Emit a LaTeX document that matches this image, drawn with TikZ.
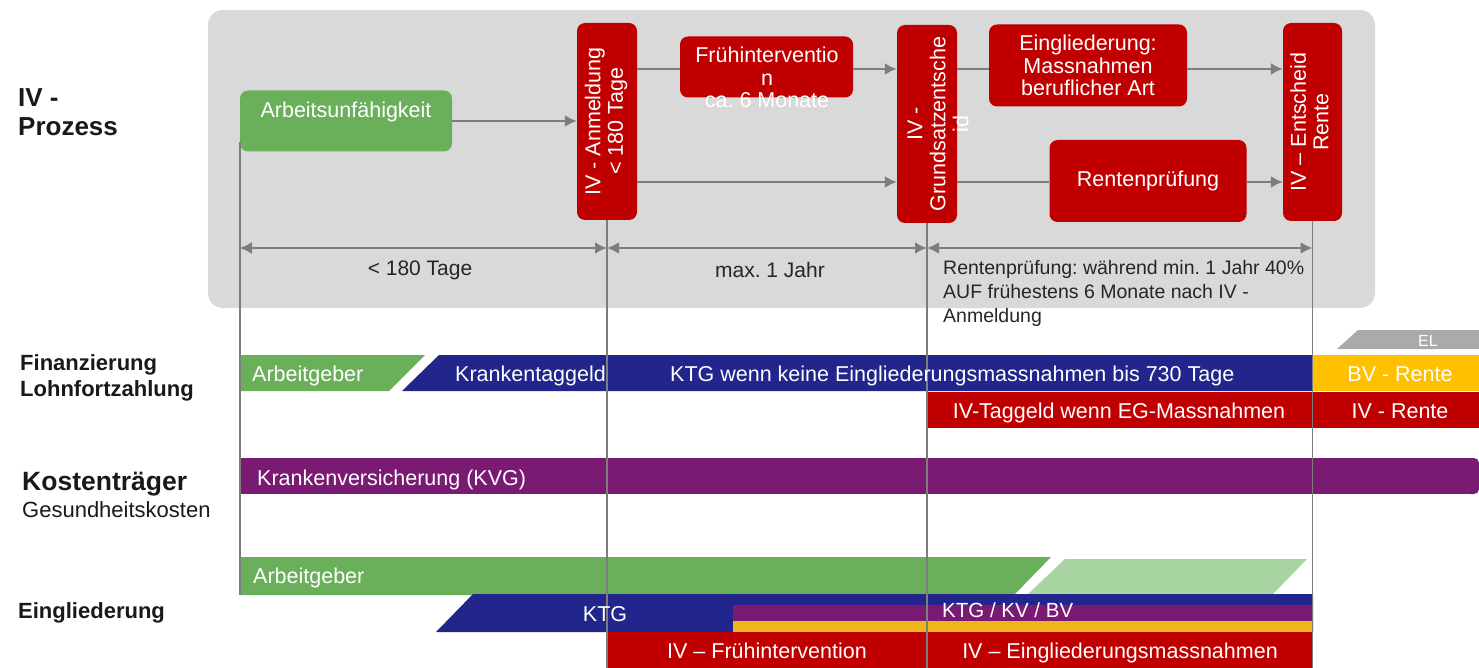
\documentclass[tikz,border=0pt]{standalone}
\usepackage{fontspec}
\setmainfont{Liberation Sans}
\usetikzlibrary{arrows.meta,calc}
\frenchspacing

\definecolor{bggray}{RGB}{217,217,217}
\definecolor{ivred}{RGB}{192,0,0}
\definecolor{agreen}{RGB}{106,176,90}
\definecolor{lgreen}{RGB}{168,212,162}
\definecolor{navy}{RGB}{33,37,140}
\definecolor{kvpurple}{RGB}{122,26,115}
\definecolor{bvyellow}{RGB}{255,192,0}
\definecolor{stripyellow}{RGB}{236,182,28}
\definecolor{linegray}{RGB}{125,125,125}
\definecolor{elgray}{RGB}{170,170,170}

\newcommand{\fs}[2]{\fontsize{#1}{#2}\selectfont}

\begin{document}
\begin{tikzpicture}[x=1pt, y=-1pt,
  procbox/.style={fill=ivred, rounded corners=8pt, text=white, font=\fs{21.5}{22.5}, align=center, inner sep=0pt},
  conn/.style={draw=linegray, line width=2.2pt},
  arr/.style={conn, -{Latex[length=12pt,width=12pt]}},
  dim/.style={conn, {Latex[length=12pt,width=12pt]}-{Latex[length=12pt,width=12pt]}},
  vline/.style={draw=linegray, line width=1.4pt},
  bartext/.style={text=white, font=\fs{21.5}{24}, inner sep=0pt, anchor=base west},
  barmid/.style={text=white, font=\fs{21.5}{24}, inner sep=0pt, anchor=base},
  dimtext/.style={text=black!85, font=\fs{21}{24}, inner sep=0pt, anchor=base},
  sidelbl/.style={text=black!90, inner sep=0pt, align=left}
]
\useasboundingbox (0,0) rectangle (1479,668);

% helper rows
\coordinate (row1) at (0,69);
\coordinate (row2) at (0,182);
\coordinate (dimrow) at (0,248);
\coordinate (egbot) at (0,595);
\coordinate (bot) at (0,668);

% ---------- process area ----------
\node[fill=bggray, rounded corners=15pt, minimum width=1167pt, minimum height=298pt, inner sep=0pt] (proc) at (791.5,159) {};

\node[procbox, fill=agreen, minimum width=212pt, minimum height=61pt, text height=16pt, text depth=22pt] (au) at (346,121) {Arbeitsunfähigkeit};

\node[procbox, minimum width=60pt, minimum height=197pt] (anm) at (607,121.5)
  {\rotatebox{90}{\begin{tabular}{@{}c@{}}IV - Anmeldung\\< 180 Tage\end{tabular}}};

\node[procbox, minimum width=173pt, minimum height=61pt] (fi) at (766.5,67) {};
\node[text=white, font=\fs{21.5}{22.5}, align=center, inner sep=0pt, anchor=north] (fi-text) at (767,47) {Frühinterventio\\n\\ca. 6 Monate};

\node[procbox, minimum width=60pt, minimum height=198pt] (gs) at (927,124) {};
\node[text=white, font=\fs{21.5}{23}, align=center, inner sep=0pt, rotate=90] (gs-text) at (938,124) {IV -\\Grundsatzentsche\\id};

\node[procbox, minimum width=198pt, minimum height=82pt] (eg) at (1088,65.5) {Eingliederung:\\Massnahmen\\beruflicher Art};

\node[procbox, minimum width=197pt, minimum height=82pt] (rp) at (1148,181) {Rentenprüfung};

\node[procbox, minimum width=59pt, minimum height=198pt] (ent) at (1312.5,122)
  {\rotatebox{90}{\begin{tabular}{@{}c@{}}IV – Entscheid\\Rente\end{tabular}}};

% connectors
\draw[arr] (au.east) -- (au.east -| anm.west);
\draw[conn] (anm.east |- row1) -- (fi.west |- row1);
\draw[arr] (fi.east |- row1) -- (gs.west |- row1);
\draw[conn] (gs.east |- row1) -- (eg.west |- row1);
\draw[arr] (eg.east |- row1) -- (ent.west |- row1);
\draw[arr] (anm.east |- row2) -- (gs.west |- row2);
\draw[conn] (gs.east |- row2) -- (rp.west |- row2);
\draw[arr] (rp.east |- row2) -- (ent.west |- row2);

% durations
\draw[dim] (au.west |- dimrow) -- (anm.south |- dimrow);
\draw[dim] (anm.south |- dimrow) -- (gs.south |- dimrow);
\draw[dim] (gs.south |- dimrow) -- (ent.south |- dimrow);
\node[dimtext] (d1) at (420,276) {< 180 Tage};
\node[dimtext] (d2) at (770,277) {max. 1 Jahr};
\node[text=black!85, font=\fs{19.5}{24}, inner sep=0pt, align=left, anchor=north west] (d3) at (943,260)
  {Rentenprüfung: während min. 1 Jahr 40\%\\AUF frühestens 6 Monate nach IV -\\Anmeldung};

% ---------- side labels ----------
\node[sidelbl, font=\bfseries\fs{26}{29}, anchor=north west] (l-proz) at (18,88) {IV -\\Prozess};
\node[sidelbl, font=\bfseries\fs{22}{26}, anchor=north west] (l-fin) at (20,354) {Finanzierung\\Lohnfortzahlung};
\node[sidelbl, font=\bfseries\fs{26.5}{30}, anchor=base west] (l-kost) at (22,490) {Kostenträger};
\node[sidelbl, font=\fs{22}{26}, anchor=base west] (l-ges) at (22,517) {Gesundheitskosten};
\node[sidelbl, font=\bfseries\fs{22}{26}, anchor=base west] (l-eing) at (18,618) {Eingliederung};

% ---------- Finanzierung Lohnfortzahlung ----------
\fill[agreen] (240,355) -- (425,355) -- (389,391) -- (240,391) -- cycle;
\fill[navy] (439,355) -- (1313,355) -- (1313,391) -- (402,391) -- cycle;
\fill[bvyellow] (1313,355) rectangle (1479,391);
\fill[elgray] (1358,330) -- (1479,330) -- (1479,349) -- (1337,349) -- cycle;
\fill[ivred] (927,392) rectangle (1313,428);
\fill[ivred] (1313,392) rectangle (1479,428);

% ---------- Kostentraeger ----------
\fill[kvpurple, rounded corners=5pt] (1470,458) -- (1479,458) -- (1479,494) -- (1470,494);
\fill[kvpurple] (240,458) rectangle (1474,494);

% ---------- Eingliederung ----------
\fill[agreen] (240,557) -- (1051,557) -- (1014,595) -- (240,595) -- cycle;
\fill[lgreen] (1065,559) -- (1307,559) -- (1273,594) -- (1028,594) -- cycle;
\fill[navy] (473,594) -- (1313,594) -- (1313,632) -- (436,632) -- cycle;
\fill[kvpurple] (733,605) rectangle (1313,621);
\fill[stripyellow] (733,621) rectangle (1313,632);
\fill[ivred] (607,632) rectangle (1313,668);

% ---------- time markers ----------
\draw[vline] ([yshift=10pt]au.south west) -- (au.west |- egbot);
\draw[vline] (anm.south) -- (anm.south |- bot);
\draw[vline] (gs.south) -- (gs.south |- bot);
\draw[vline] (ent.south) -- (ent.south |- bot);

% ---------- bar texts ----------
\node[bartext] (t-ag1) at (252,381) {Arbeitgeber};
\node[bartext] (t-ktg1) at (455,381) {Krankentaggeld};
\node[bartext] (t-ktg2) at (670,381) {KTG wenn keine Eingliederungsmassnahmen bis 730 Tage};
\node[barmid] (t-bv) at (1400,381) {BV - Rente};
\node[text=white, font=\fs{16}{18}, inner sep=0pt, anchor=base] (t-el) at (1428,346) {EL};
\node[barmid] (t-ivt) at (1119,418) {IV-Taggeld wenn EG-Massnahmen};
\node[barmid] (t-ivr) at (1400,418) {IV - Rente};
\node[bartext] (t-kvg) at (257,485) {Krankenversicherung (KVG)};
\node[bartext] (t-ag2) at (253,583) {Arbeitgeber};
\node[barmid] (t-ktg3) at (605,621) {KTG};
\node[bartext, font=\fs{20.5}{24}] (t-kkb) at (942,617) {KTG / KV / BV};
\node[barmid] (t-fi) at (767,658) {IV – Frühintervention};
\node[barmid] (t-egm) at (1120,658) {IV – Eingliederungsmassnahmen};

\end{tikzpicture}
\end{document}
